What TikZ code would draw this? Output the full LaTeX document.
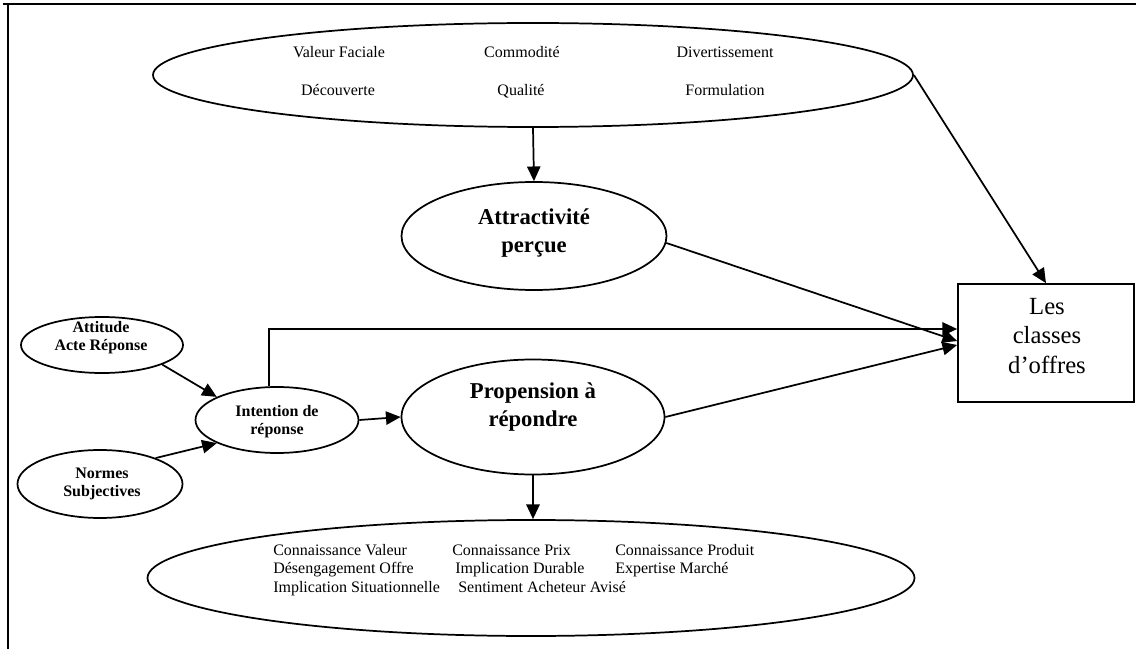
\documentclass[tikz,border=0pt]{standalone}
\usepackage{fontspec}
\setmainfont{Liberation Serif}
\usetikzlibrary{shapes.geometric,arrows.meta,calc}

\begin{document}
\begin{tikzpicture}[x=0.75pt,y=-0.75pt,
  every node/.style={inner sep=0pt},
  oval/.style={ellipse, draw, line width=1.3pt},
  classbox/.style={rectangle, draw, line width=1.3pt},
  conn/.style={line width=1.3pt, -{Triangle[length=11pt,width=10pt]}},
  item/.style={font=\fontsize{12}{14}\selectfont, text height=8pt, text depth=2.5pt},
  smallbold/.style={font=\bfseries\fontsize{12}{13.5}\selectfont, align=center},
  bigbold/.style={font=\bfseries\fontsize{17}{21}\selectfont, align=center},
  boxtext/.style={font=\fontsize{18.5}{22}\selectfont, align=center}
]
\useasboundingbox (0,0) rectangle (1136,649);

% page frame (top and left rules)
\draw[line width=2.2pt] (3,4) -- (1136,4);
\draw[line width=1.5pt] (8,4) -- (8,649);

% offer attributes
\node[oval, minimum width=570pt, minimum height=78pt] (top) at (533,75) {};
\node[item] (vf) at (339,54) {Valeur Faciale};
\node[item] (co) at (522,54) {Commodité};
\node[item] (dv) at (725,54) {Divertissement};
\node[item] (dc) at (338,92) {Découverte};
\node[item] (ql) at (521,92) {Qualité};
\node[item] (fm) at (725,92) {Formulation};

% central constructs
\node[oval, minimum width=198.75pt, minimum height=81pt] (attr) at (534,236) {};
\node[bigbold] (attr-t) at (534,233.5) {Attractivité\\perçue};

\node[oval, minimum width=197.25pt, minimum height=86.25pt] (prop) at (533,417) {};
\node[bigbold] (prop-t) at (533,407.5) {Propension à\\répondre};

% antecedents
\node[oval, minimum width=121.5pt, minimum height=42pt] (att) at (102,345) {};
\node[smallbold] (att-t) at (101,338) {Attitude\\Acte Réponse};

\node[oval, minimum width=123.75pt, minimum height=51pt] (nor) at (100,484) {};
\node[smallbold] (nor-t) at (102,484) {Normes\\Subjectives};

\node[oval, minimum width=122.25pt, minimum height=49.5pt] (int) at (277,420) {};
\node[smallbold] (int-t) at (277,422) {Intention de\\réponse};

% outcome
\node[classbox, minimum width=132pt, minimum height=88.5pt] (box) at (1046,343) {};
\node[boxtext] (box-t) at (1047,336) {Les\\classes\\d’offres};

% consumer characteristics
\node[oval, minimum width=575.25pt, minimum height=87pt] (bot) at (531,578) {};
\node[item, anchor=west] (b11) at (273,552) {Connaissance Valeur};
\node[item, anchor=west] (b12) at (452,552) {Connaissance Prix};
\node[item, anchor=west] (b13) at (615,552) {Connaissance Produit};
\node[item, anchor=west] (b21) at (273,570) {Désengagement Offre};
\node[item, anchor=west] (b22) at (455,570) {Implication Durable};
\node[item, anchor=west] (b23) at (615,570) {Expertise Marché};
\node[item, anchor=west] (b31) at (273,589) {Implication Situationnelle};
\node[item, anchor=west] (b32) at (458,589) {Sentiment Acheteur Avisé};

% connectors
\draw[conn] (top.south) -- (attr.north);
\draw[conn] (top.east) -- (box.north);
\draw[conn] (attr.-3) -- ([yshift=1.5pt]box.west);
\draw[conn] (prop.east) -- ([yshift=-1.5pt]box.west);
\draw[conn] ([xshift=-6pt]int.north) |- ([yshift=10.5pt]box.west);
\draw[conn] (att.-18) -- (int.159);
\draw[conn] (nor.25) -- (int.201);
\draw[conn] (int.east) -- (prop.west);
\draw[conn] (prop.south) -- (prop.south |- bot.north);
\end{tikzpicture}
\end{document}
